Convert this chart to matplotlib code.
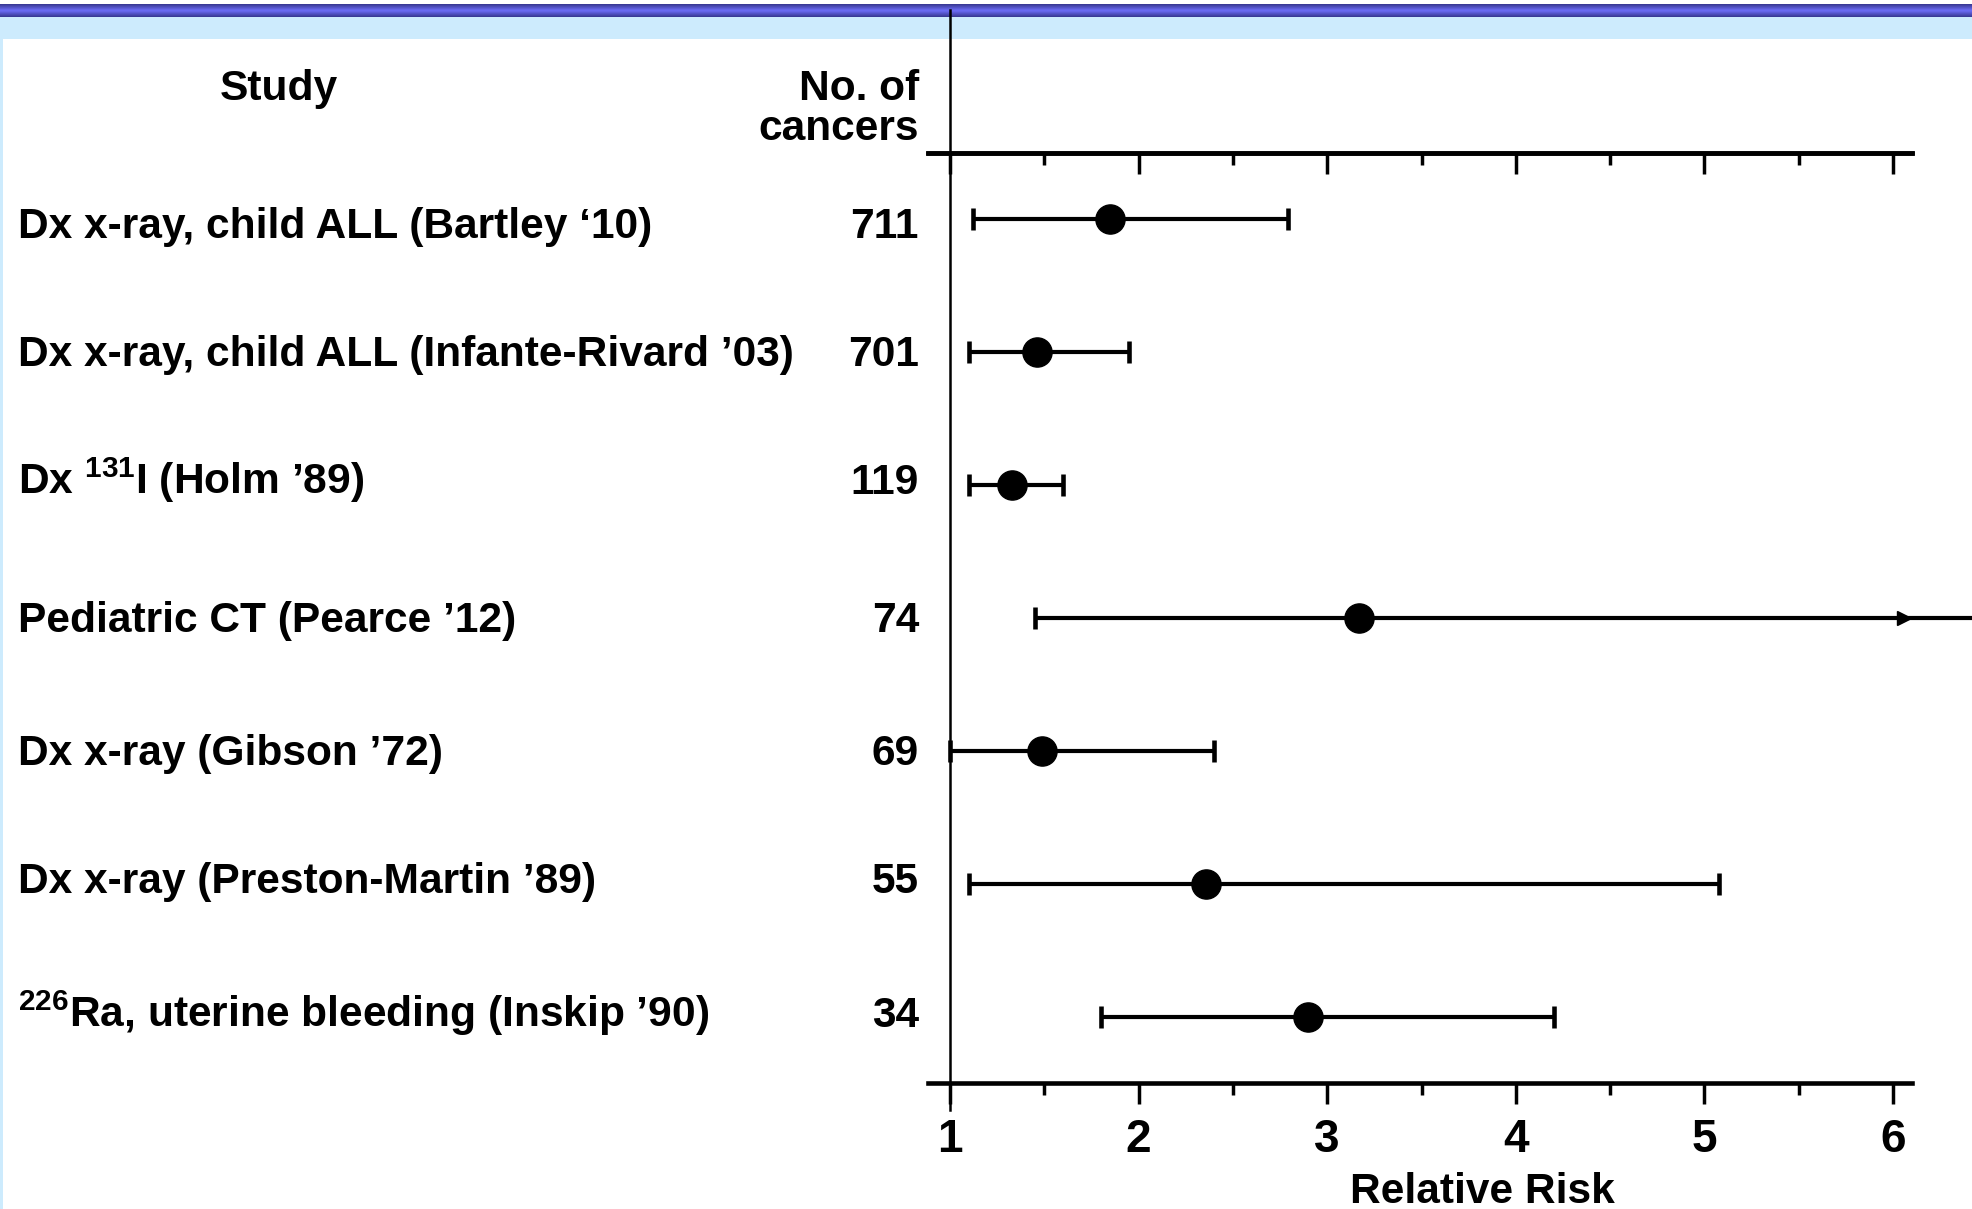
import numpy as np
import matplotlib
matplotlib.use('Agg')
import matplotlib.pyplot as plt
from matplotlib.colors import LinearSegmentedColormap

plt.rcParams['font.family'] = ['Liberation Sans', 'DejaVu Sans']
plt.rcParams['font.weight'] = 'bold'
plt.rcParams['mathtext.fontset'] = 'custom'
plt.rcParams['mathtext.rm'] = 'Liberation Sans:bold'
plt.rcParams['mathtext.it'] = 'Liberation Sans:bold'
plt.rcParams['mathtext.bf'] = 'Liberation Sans:bold'

# data
studies = ['Dx x-ray, child ALL (Bartley \u201810)',
           'Dx x-ray, child ALL (Infante-Rivard \u201903)',
           'Dx $^{131}$I (Holm \u201989)',
           'Pediatric CT (Pearce \u201912)',
           'Dx x-ray (Gibson \u201972)',
           'Dx x-ray (Preston-Martin \u201989)',
           '$^{226}$Ra, uterine bleeding (Inskip \u201990)']
n_cancers = ['711', '701', '119', '74', '69', '55', '34']
rr = [1.85, 1.46, 1.33, 3.17, 1.49, 2.36, 2.90]
ci_low = [1.12, 1.10, 1.10, 1.45, 1.00, 1.10, 1.80]
ci_high = [2.79, 1.95, 1.60, 6.45, 2.40, 5.08, 4.20]
off_scale = [False, False, False, True, False, False, False]
x_ticks = [1, 2, 3, 4, 5, 6]

# text baselines of each row, pixels from top
text_base = [238, 366, 494, 632, 765, 893, 1027]

W, H = 1972, 1209
fig = plt.figure(figsize=(W / 100, H / 100), dpi=100)

# header band
band = fig.add_axes([0, 1 - 39 / H, 1, 39 / H])
band.set_axis_off()
band.set_xlim(0, 1)
band.axhspan(17, 39, color='#cdebfd', lw=0)
grad = np.concatenate([np.linspace(0, 1, 7), np.linspace(1, 0, 7)])[:, None]
cmap = LinearSegmentedColormap.from_list('bl', ['#3a3a96', '#6a6af2'])
band.imshow(grad, extent=[0, 1, 17, 4], aspect='auto', cmap=cmap)
band.set_ylim(39, 0)
fig.add_artist(plt.Rectangle((0, 0), 3 / W, 1 - 39 / H, transform=fig.transFigure,
                             color='#cdebfd', lw=0))

# main axes
x0_px, x1_px = 928, 1912
one_px, unit_px = 950, 188.6
top_px, bot_px = 153, 1083
ax = fig.add_axes([x0_px / W, 1 - bot_px / H, (x1_px - x0_px) / W, (bot_px - top_px) / H])
ax.set_xlim(1 - (one_px - x0_px) / unit_px, 6 + (x1_px - 1893) / unit_px)
ax.set_ylim(len(studies) - 0.5, -0.5)
ax.patch.set_alpha(0)

for s in ['left', 'right']:
    ax.spines[s].set_visible(False)
for s in ['top', 'bottom']:
    ax.spines[s].set_linewidth(3.3)
ax.set_yticks([])
ax.set_xticks(x_ticks)
ax.set_xticks([1.5, 2.5, 3.5, 4.5, 5.5], minor=True)
ax.tick_params(axis='x', which='major', direction='out', length=15, width=2.5,
               labelsize=33, pad=10)
ax.tick_params(axis='x', which='minor', direction='out', length=8.5, width=2.5)
for lab in ax.get_xticklabels():
    lab.set_fontweight('bold')

sec = ax.secondary_xaxis('top')
sec.set_xticks(x_ticks)
sec.set_xticks([1.5, 2.5, 3.5, 4.5, 5.5], minor=True)
sec.tick_params(axis='x', which='major', direction='in', length=15, width=2.5, labeltop=False)
sec.tick_params(axis='x', which='minor', direction='in', length=8.5, width=2.5)
sec.spines['top'].set_linewidth(3.3)

# reference line at RR = 1
ax.plot([1, 1], [-1.58, 6.70], color='black', lw=1.8, clip_on=False, zorder=5)

for i in range(len(studies)):
    ax.plot([ci_low[i], ci_high[i]], [i, i], color='black', lw=3,
            solid_capstyle='butt', clip_on=False, zorder=3)
    ax.plot(ci_low[i], i, marker='|', ms=16, mew=3.3, color='black', clip_on=False, zorder=3)
    if off_scale[i]:
        ax.plot(6.06, i, marker='>', ms=10, color='black', clip_on=False, zorder=4)
    else:
        ax.plot(ci_high[i], i, marker='|', ms=16, mew=3.3, color='black', clip_on=False, zorder=3)
    ax.plot(rr[i], i, marker='o', ms=21, color='black', clip_on=False, zorder=4)

# row labels
for i in range(len(studies)):
    ypos = 1 - text_base[i] / H
    fig.text(18 / W, ypos, studies[i], fontsize=30.6, fontweight='bold', ha='left', va='baseline')
    fig.text(919 / W, ypos, n_cancers[i], fontsize=30.6, fontweight='bold', ha='right', va='baseline')

fig.text(279 / W, 1 - 100 / H, 'Study', fontsize=30.6, fontweight='bold', ha='center', va='baseline')
fig.text(919 / W, 1 - 100 / H, 'No. of', fontsize=30.6, fontweight='bold', ha='right', va='baseline')
fig.text(919 / W, 1 - 140 / H, 'cancers', fontsize=30.6, fontweight='bold', ha='right', va='baseline')
fig.text(1482 / W, 1 - 1203 / H, 'Relative Risk', fontsize=30.5, fontweight='bold',
         ha='center', va='baseline')

fig.savefig('out.png', dpi=100)
